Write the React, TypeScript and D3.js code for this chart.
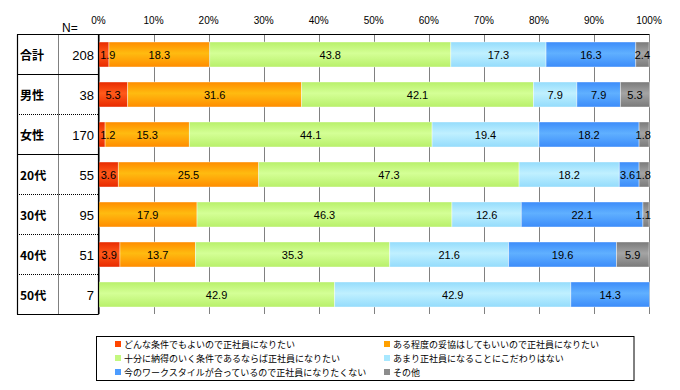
import React from "react";
import * as d3 from "d3";

const categories = ["合計", "男性", "女性", "20代", "30代", "40代", "50代"];
const counts = [208, 38, 170, 55, 95, 51, 7];
const seriesNames = [
  "どんな条件でもよいので正社員になりたい",
  "ある程度の妥協はしてもいいので正社員になりたい",
  "十分に納得のいく条件であるならば正社員になりたい",
  "あまり正社員になることにこだわりはない",
  "今のワークスタイルが合っているので正社員になりたくない",
  "その他",
];
const s1 = [1.9, 5.3, 1.2, 3.6, 0, 3.9, 0];
const s2 = [18.3, 31.6, 15.3, 25.5, 17.9, 13.7, 0];
const s3 = [43.8, 42.1, 44.1, 47.3, 46.3, 35.3, 42.9];
const s4 = [17.3, 7.9, 19.4, 18.2, 12.6, 21.6, 42.9];
const s5 = [16.3, 7.9, 18.2, 3.6, 22.1, 19.6, 14.3];
const s6 = [2.4, 5.3, 1.8, 1.8, 1.1, 5.9, 0];
const series = [s1, s2, s3, s4, s5, s6];
const ticks = [0, 10, 20, 30, 40, 50, 60, 70, 80, 90, 100];

const colors = [
  { edge: "#e82a00", mid: "#ff5a1a", flat: "#ff4500" },
  { edge: "#ff8c00", mid: "#ffbb10", flat: "#ffa000" },
  { edge: "#b8f06a", mid: "#d4ff96", flat: "#c4f880" },
  { edge: "#94dcfc", mid: "#c0f0ff", flat: "#a8e8ff" },
  { edge: "#3c8cfa", mid: "#60b0ff", flat: "#4c9cff" },
  { edge: "#7a7a7a", mid: "#a4a4a4", flat: "#8c8c8c" },
];

const FONT = "'Liberation Sans', Arial, sans-serif";
const JFONT = "'Noto Sans CJK JP', sans-serif";

export default function App() {
  const W = 680, H = 390;
  const x = d3.scaleLinear().domain([0, 100]).range([98.5, 649]);
  const y = d3
    .scaleBand<string>()
    .domain(categories)
    .range([34.5, 314.5])
    .paddingInner(0.375)
    .paddingOuter(0.1875);
  const step = y.step();
  const top = 34.5;
  const half = 7.8;

  const stacks = categories.map((c, i) => {
    let acc = 0;
    const segs = series.map((s, j) => {
      const v = s[i];
      const x0 = acc;
      acc += v;
      const mid = (x(x0) + x(acc)) / 2;
      const lx = Math.min(Math.max(mid, x(0) + 1.5 + half), x(100) + 2 - half);
      return { v, x0, x1: acc, j, lx };
    });
    // resolve collisions right to left
    const vis = segs.filter((s) => s.v > 0);
    for (let k = vis.length - 2; k >= 0; k--) {
      const maxC = vis[k + 1].lx - 2 * half;
      if (vis[k].lx > maxC) vis[k].lx = maxC;
    }
    return segs;
  });

  return (
    <svg width={W} height={H} style={{ position: "absolute", left: 0, top: 0, background: "#fff" }}>
      <defs>
        {colors.map((c, j) => (
          <linearGradient key={j} id={`g${j}`} x1="0" y1="0" x2="0" y2="1">
            <stop offset="0" stopColor={c.edge} />
            <stop offset="0.45" stopColor={c.mid} />
            <stop offset="1" stopColor={c.edge} />
          </linearGradient>
        ))}
      </defs>
      <rect width={W} height={H} fill="#fff" />
      {ticks.map((t) => (
        <line key={t} x1={Math.round(x(t)) + 0.5} x2={Math.round(x(t)) + 0.5} y1={top} y2={314} stroke="#808080" strokeWidth={1} />
      ))}
      {ticks.map((t) => (
        <text key={t} x={x(t)} y={24} textAnchor="middle" fontFamily={FONT} fontSize={10} fill="#000">
          {t}%
        </text>
      ))}
      {stacks.map((row, i) =>
        row.map((seg) =>
          seg.v > 0 ? (
            <rect
              key={`${i}-${seg.j}`}
              x={x(seg.x0)}
              y={y(categories[i])}
              width={x(seg.x1) - x(seg.x0)}
              height={y.bandwidth()}
              fill={`url(#g${seg.j})`}
              stroke="#ffffff"
              strokeOpacity={0.5}
              strokeWidth={0.8}
            />
          ) : null
        )
      )}
      {stacks.map((row, i) =>
        row.map((seg) =>
          seg.v > 0 ? (
            <text
              key={`t${i}-${seg.j}`}
              x={seg.lx}
              y={(y(categories[i]) as number) + y.bandwidth() / 2 + 4}
              textAnchor="middle"
              fontFamily={FONT}
              fontSize={11}
              fill="#000"
            >
              {seg.v.toFixed(1)}
            </text>
          ) : null
        )
      )}
      <line x1={17} x2={649.5} y1={top} y2={top} stroke="#000" strokeWidth={1.2} />
      <line x1={17.5} x2={17.5} y1={top} y2={314.5} stroke="#000" strokeWidth={1.2} />
      <line x1={98.5} x2={98.5} y1={top} y2={314.5} stroke="#000" strokeWidth={1.2} />
      <line x1={58.5} x2={58.5} y1={top} y2={314.5} stroke="#000" strokeWidth={1} strokeDasharray="1,1" />
      {categories.map((c, i) => {
        const yy = top + step * (i + 1);
        const solid = i === 0 || i === 2 || i === 6;
        return (
          <line
            key={`sep${i}`}
            x1={17}
            x2={98.5}
            y1={yy}
            y2={yy}
            stroke="#000"
            strokeWidth={solid ? 1.2 : 1}
            strokeDasharray={solid ? undefined : "1,1"}
          />
        );
      })}
      <text x={62} y={32} fontFamily={FONT} fontSize={12} fill="#000">N=</text>
      {categories.map((c, i) => {
        const cy = top + step * i + step / 2 + 5;
        return (
          <g key={`lab${i}`}>
            <text x={20} y={cy} fontFamily={JFONT} fontSize={12} fontWeight="bold" fill="#000">
              {c}
            </text>
            <text x={94} y={cy} textAnchor="end" fontFamily={FONT} fontSize={13} fill="#000">
              {counts[i]}
            </text>
          </g>
        );
      })}
      <rect x={96.5} y={336.5} width={537.5} height={44} fill="#fff" stroke="#000" strokeWidth={1} />
      {seriesNames.map((n, j) => {
        const col = j % 2;
        const row = Math.floor(j / 2);
        const lx = col === 0 ? 115 : 384;
        const ly = 344 + row * 14;
        return (
          <g key={`lg${j}`}>
            <rect x={lx} y={ly - 3} width={6} height={6} fill={colors[j].flat} />
            <text x={lx + 9} y={ly + 3.5} fontFamily={JFONT} fontSize={9} fill="#000">
              {n}
            </text>
          </g>
        );
      })}
    </svg>
  );
}
